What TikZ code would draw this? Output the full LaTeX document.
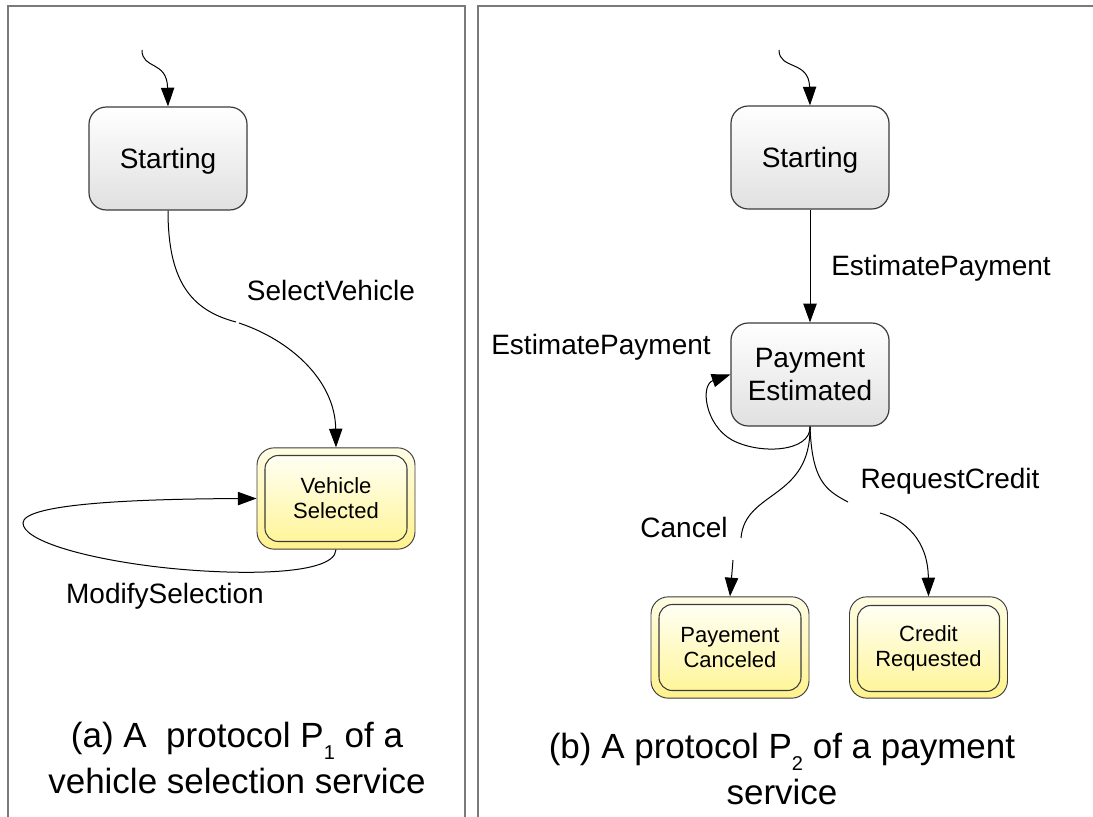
\documentclass[tikz,border=0pt]{standalone}
\usepackage{fontspec}
\setmainfont{Liberation Sans}
\usetikzlibrary{arrows.meta,shadings}

\definecolor{boxline}{HTML}{3C3C3C}
\definecolor{stategray}{HTML}{E0E0E0}
\definecolor{panelgray}{HTML}{7A7A7A}
\definecolor{ylwtop}{HTML}{FFFDE4}
\definecolor{ylwbot}{HTML}{FFF28C}
\definecolor{ylwintop}{HTML}{FFFFF4}
\definecolor{ylwinbot}{HTML}{FFF59A}

\newcommand\lowsub[1]{\raisebox{-0.32em}{\fontsize{15}{15}\selectfont #1}}

\tikzset{
  panel/.style={draw=panelgray, line width=1.5pt},
  state/.style={draw=boxline, line width=0.9pt, rounded corners=13pt,
    top color=white, bottom color=stategray, shading angle=0,
    minimum width=118.5pt, minimum height=77.25pt, inner sep=0pt,
    align=center, font=\fontsize{21}{24.75}\selectfont},
  finalout/.style={draw=boxline, line width=0.7pt, rounded corners=13pt,
    top color=ylwtop, bottom color=ylwbot,
    minimum width=118.5pt, minimum height=76pt, inner sep=0pt},
  finalin/.style={draw=boxline, line width=0.8pt, rounded corners=10pt,
    top color=ylwintop, bottom color=ylwinbot,
    minimum width=106.5pt, minimum height=64.5pt, inner sep=0pt,
    align=center, font=\fontsize{16.5}{18.75}\selectfont},
  trans/.style={line width=0.75pt, draw=black},
  transarrow/.style={trans, -{Triangle[length=14pt,width=10pt]}},
  lbl/.style={inner sep=0pt, font=\fontsize{21}{25}\selectfont},
  capt/.style={inner sep=0pt, align=center, font=\fontsize{26.25}{34}\selectfont},
}

\begin{document}
\begin{tikzpicture}[x=0.75pt, y=-0.75pt]
\useasboundingbox (0,0) rectangle (1093,817);
\fill[white] (0,0) rectangle (1093,817);

% panel frames
\draw[panel] (8,817) -- (8,6) -- (465,6) -- (465,817);
\draw[panel] (478,817) -- (478,6) -- (1093,6);

% ---------- (a) vehicle selection service ----------
\node[state, text depth=0pt] (st1) at (168,158.5) {Starting};
\node[finalout] (vsel) at (336,498.5) {};
\node[finalin] (vselin) at (vsel.center) {Vehicle\\Selected};

\coordinate (init1) at (142,50);
\draw[transarrow] (init1) .. controls (142,70) and (167,60) .. (st1.north);

\coordinate (sv1) at (236,322);
\coordinate (sv2) at (239,323);
\draw[trans] (st1.south) .. controls (168,280) and (190,310) .. (sv1);
\draw[transarrow] (sv2) .. controls (290,340) and (335,380) .. (vsel.north);
\node[lbl, anchor=base] (lsel) at (331,300) {SelectVehicle};

\draw[transarrow] (vsel.south) .. controls (335,578) and (220,575) .. (150,566)
  .. controls (80,557) and (23,540) .. (23,523)
  .. controls (23,505) and (120,499) .. (vsel.west);
\node[lbl, anchor=base] (lmod) at (165,603) {ModifySelection};

\node[capt] (capa) at (237,758) {(a) A\ \ protocol P\lowsub{1} of a\\vehicle selection service};

% ---------- (b) payment service ----------
\node[state, text depth=0pt] (st2) at (810,157.5) {Starting};
\node[state] (pe) at (810,374.5) {Payment\\Estimated};
\node[finalout] (pc) at (730,647.5) {};
\node[finalin] (pcin) at (pc.center) {Payement\\Canceled};
\node[finalout] (cr) at (928.5,647.5) {};
\node[finalin] (crin) at ([yshift=-0.75pt]cr.center) {Credit\\Requested};

\coordinate (init2) at (779,50);
\draw[transarrow] (init2) .. controls (779,70) and (809,60) .. (st2.north);

\draw[transarrow] (st2.south) -- (pe.north);
\node[lbl, anchor=base west] (lest1) at (831,275) {EstimatePayment};

\draw[transarrow] (pe.south) .. controls (811,452) and (760,455) .. (732,440)
  .. controls (705,425) and (700,385) .. (pe.west);
\node[lbl, anchor=base] (lest2) at (601,354) {EstimatePayment};

\coordinate (cn1) at (741,538);
\coordinate (cn2) at (733,560);
\draw[trans] (pe.south) .. controls (811,500) and (745,490) .. (cn1);
\draw[transarrow] (cn2) -- (pc.north);
\node[lbl, anchor=base] (lcan) at (684,537) {Cancel};

\coordinate (rc1) at (848,502);
\coordinate (rc2) at (880,513);
\draw[trans] (pe.south) .. controls (812,480) and (825,490) .. (rc1);
\draw[transarrow] (rc2) .. controls (905,520) and (928,540) .. (cr.north);
\node[lbl, anchor=base] (lreq) at (950,488) {RequestCredit};

\node[capt] (capb) at (782,769) {(b) A protocol P\lowsub{2} of a payment\\service};
\end{tikzpicture}
\end{document}
